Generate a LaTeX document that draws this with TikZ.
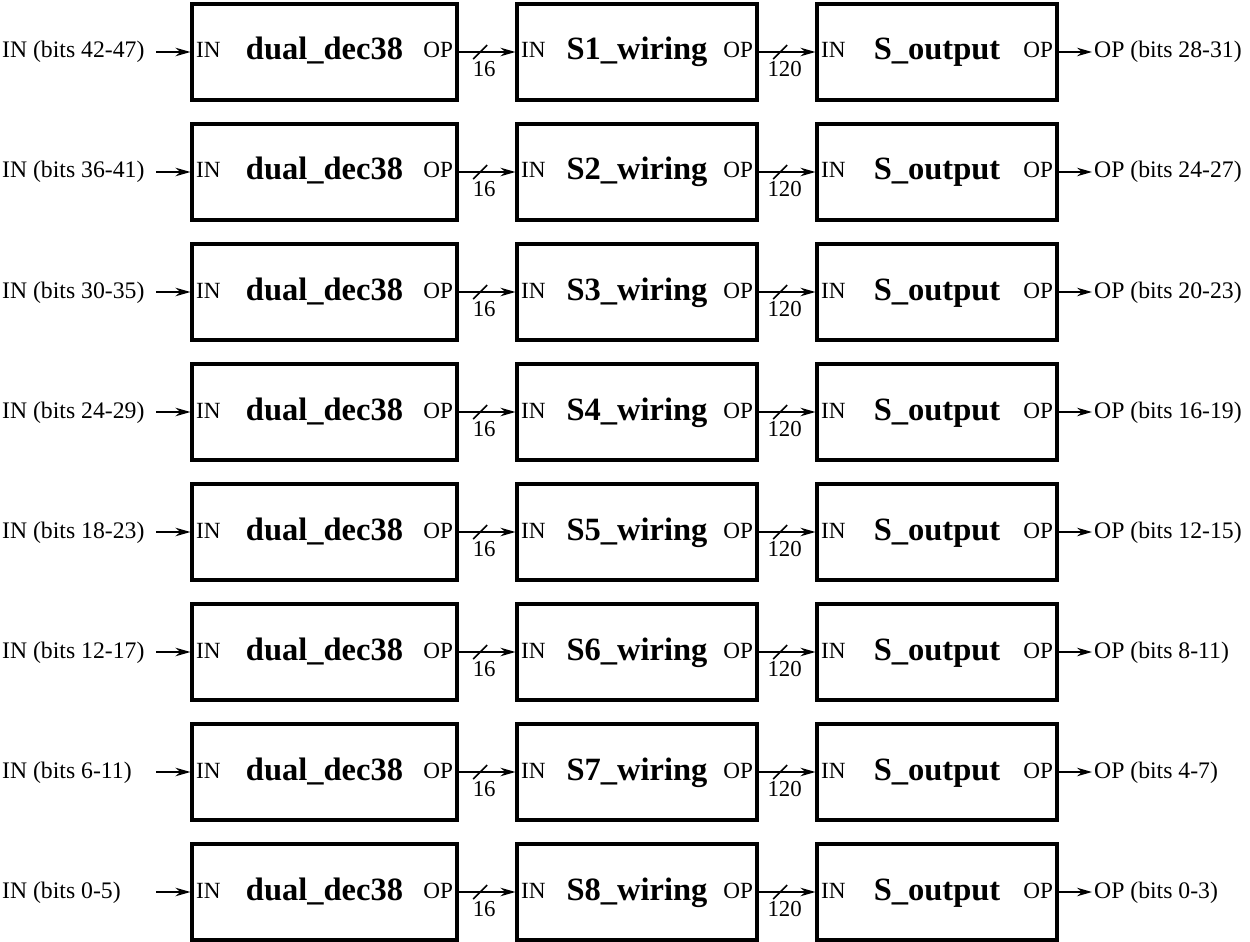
\documentclass[tikz,border=0pt]{standalone}
\usepackage{fontspec}
\setmainfont{Liberation Serif}
\usetikzlibrary{arrows.meta,positioning,calc}

\begin{document}
\begin{tikzpicture}[x=0.02cm, y=-0.02cm,
  blk/.style={draw, line width=1.8pt, minimum height=1.92cm, inner sep=0pt},
  port/.style={font=\fontsize{13.2}{15}\selectfont, inner sep=3pt},
  ttl/.style={font=\fontsize{18.5}{21}\selectfont\bfseries},
  lbl/.style={font=\fontsize{13.5}{16}\selectfont, inner sep=1pt},
  buslbl/.style={font=\fontsize{13}{15}\selectfont, inner sep=0pt, anchor=base},
  sig/.style={-{Stealth[length=3mm, width=1.7mm]}, line width=0.9pt},
  tick/.style={line width=0.9pt}]
\useasboundingbox (0,0) rectangle (1250,942);
\foreach \i/\lo/\hi in {1/42-47/28-31, 2/36-41/24-27, 3/30-35/20-23,
    4/24-29/16-19, 5/18-23/12-15, 6/12-17/8-11, 7/6-11/4-7, 8/0-5/0-3} {
  \pgfmathsetmacro{\yy}{52+120*(\i-1)}
  % the three blocks of one row
  \node[blk, minimum width=5.3cm] (dec\i) at (324.5,\yy) {};
  \node[blk, minimum width=4.8cm] (wir\i) at (637,\yy) {};
  \node[blk, minimum width=4.8cm] (out\i) at (937,\yy) {};
  \node[ttl, anchor=base] at ([shift={(0,8)}]dec\i) {dual\_dec38};
  \node[ttl, anchor=base] at ([shift={(0,8)}]wir\i) {S\i\_wiring};
  \node[ttl, anchor=base] at ([shift={(0,8)}]out\i) {S\_output};
  \node[port, anchor=base west] at ([shift={(0,6)}]dec\i.west) {IN};
  \node[port, anchor=base east] at ([shift={(0,6)}]dec\i.east) {OP};
  \node[port, anchor=base west] at ([shift={(0,6)}]wir\i.west) {IN};
  \node[port, anchor=base east] at ([shift={(0,6)}]wir\i.east) {OP};
  \node[port, anchor=base west] at ([shift={(0,6)}]out\i.west) {IN};
  \node[port, anchor=base east] at ([shift={(0,6)}]out\i.east) {OP};
  % outer signals
  \node[lbl, anchor=base west] (inl\i) at (0,\yy+6) {IN (bits \lo)};
  \coordinate (src\i) at (156,\yy);
  \draw[sig] (src\i) -- (dec\i.west);
  \coordinate (dst\i) at (1092,\yy);
  \node[lbl, anchor=base west] (opl\i) at (1092,\yy+6) {OP (bits \hi)};
  \draw[sig] (out\i.east) -- (dst\i);
  % buses
  \draw[sig] (dec\i.east) -- (wir\i.west);
  \draw[sig] (wir\i.east) -- (out\i.west);
  \coordinate (ba\i) at ($(dec\i.east)!0.38!(wir\i.west)$);
  \coordinate (bb\i) at ($(wir\i.east)!0.38!(out\i.west)$);
  \draw[tick] ([shift={(-7,7)}]ba\i) -- ([shift={(7,-7)}]ba\i);
  \draw[tick] ([shift={(-7,7)}]bb\i) -- ([shift={(7,-7)}]bb\i);
  \node[buslbl] at ([shift={(4,24.5)}]ba\i) {16};
  \node[buslbl] at ([shift={(4.5,24.5)}]bb\i) {120};
}
\end{tikzpicture}
\end{document}
